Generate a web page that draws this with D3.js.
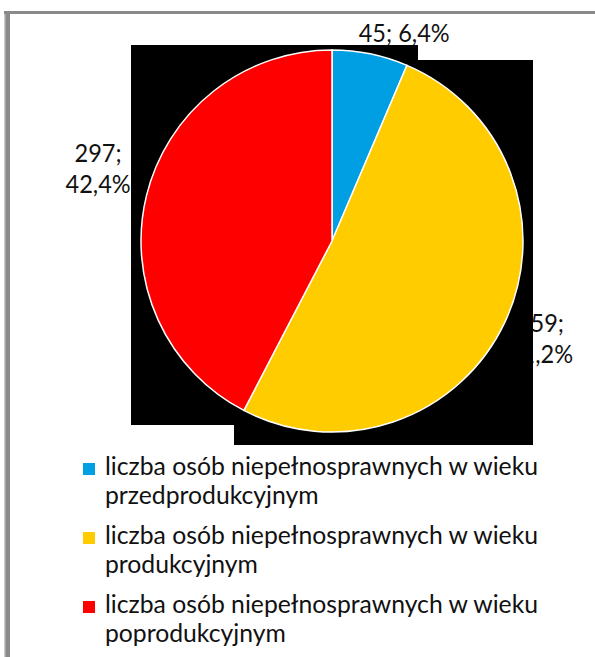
<!DOCTYPE html>
<html>
<head>
<meta charset="utf-8">
<script src="https://cdn.jsdelivr.net/npm/d3@7/dist/d3.min.js"></script>
<style>
  html, body { margin: 0; padding: 0; background: #fff; }
  svg { display: block; }
  text { font-family: Lato, "Open Sans", sans-serif; fill: #111; }
</style>
</head>
<body>
<svg id="chart" width="595" height="657"></svg>
<script>
// ---- data ----
const categories = [
  "liczba osób niepełnosprawnych w wieku przedprodukcyjnym",
  "liczba osób niepełnosprawnych w wieku produkcyjnym",
  "liczba osób niepełnosprawnych w wieku poprodukcyjnym"
];
const values = [45, 359, 297];
const colors = ["#009FE3", "#FFCC00", "#FF0000"];

// ---- layout ----
const W = 595, H = 657;
const cx = 332, cy = 241, R = 191;
const labelRadius = [1.147, 1.207, 1.28];
const labelShift = [0.134, 0, 0.055];
const labelFont = 25, labelLineH = 31, labelWidthFirst = 91;
const legendX = 83, legendTextX = 105, legendY0 = 475, legendItemH = 69, legendLineH = 29;
const legendFont = 25, legendLine1Width = 433;

const svg = d3.select("#chart");

// frame lines
svg.append("rect").attr("x", 4).attr("y", 11).attr("width", W - 4).attr("height", 3).attr("fill", "#8a8a8a");
svg.append("rect").attr("x", 5).attr("y", 11).attr("width", 5).attr("height", H - 11).attr("fill", "#8a8a8a");
svg.append("rect").attr("x", 4).attr("y", 14).attr("width", 1.5).attr("height", H - 14).attr("fill", "#c8c8c8");

const total = d3.sum(values);
const pct = v => d3.format(".1f")(v / total * 100).replace(".", ",") + "%";

const pie = d3.pie().sort(null).value(d => d);
const arcs = pie(values);
const arc = d3.arc().innerRadius(0).outerRadius(R);

const g = svg.append("g").attr("transform", `translate(${cx},${cy})`);

// data labels (drawn first, partly covered by background blocks as in reference)
const labelG = g.append("g");
const labelLines = arcs.map((a, i) => i === 0
  ? [`${values[i]}; ${pct(values[i])}`]
  : [`${values[i]};`, pct(values[i])]);

const probe = labelG.append("text").attr("font-size", labelFont).text(labelLines[0][0]);
const labelScale = labelWidthFirst / probe.node().getComputedTextLength();
probe.remove();

arcs.forEach((a, i) => {
  const ang = (a.startAngle + a.endAngle) / 2 + labelShift[i];
  const d = R * labelRadius[i];
  const x = Math.sin(ang) * d, y = -Math.cos(ang) * d;
  const lines = labelLines[i];
  const firstBase = y + 8 - (lines.length - 1) * labelLineH / 2;
  lines.forEach((ln, j) => {
    const t = labelG.append("text")
      .attr("x", x).attr("y", firstBase + j * labelLineH)
      .attr("text-anchor", "middle")
      .attr("font-size", labelFont)
      .text(ln);
    const w = t.node().getComputedTextLength();
    t.attr("textLength", w * labelScale).attr("lengthAdjust", "spacingAndGlyphs");
  });
});

// background blocks (artifact in reference)
g.append("rect").attr("x", -201).attr("y", -196).attr("width", 287).attr("height", 380).attr("fill", "#000");
g.append("rect").attr("x", -98).attr("y", -181).attr("width", 299).attr("height", 385).attr("fill", "#000");

// slices
g.selectAll("path.slice").data(arcs).enter().append("path")
  .attr("class", "slice")
  .attr("d", arc)
  .attr("fill", (d, i) => colors[i])
  .attr("stroke", "#fff")
  .attr("stroke-width", 1.5);

// legend
const legend = svg.append("g");
const probe2 = legend.append("text").attr("font-size", legendFont).text("liczba osób niepełnosprawnych w wieku");
const legendScale = legendLine1Width / probe2.node().getComputedTextLength();
probe2.remove();

categories.forEach((c, i) => {
  const words = c.split(" ");
  const lines = [words.slice(0, -1).join(" "), words[words.length - 1]];
  const base = legendY0 + i * legendItemH;
  legend.append("rect")
    .attr("x", legendX).attr("y", base - 12)
    .attr("width", 12).attr("height", 12)
    .attr("fill", colors[i]);
  lines.forEach((ln, j) => {
    const t = legend.append("text")
      .attr("x", legendTextX).attr("y", base + j * legendLineH)
      .attr("font-size", legendFont)
      .text(ln);
    const w = t.node().getComputedTextLength();
    t.attr("textLength", w * legendScale).attr("lengthAdjust", "spacingAndGlyphs");
  });
});
</script>
</body>
</html>
